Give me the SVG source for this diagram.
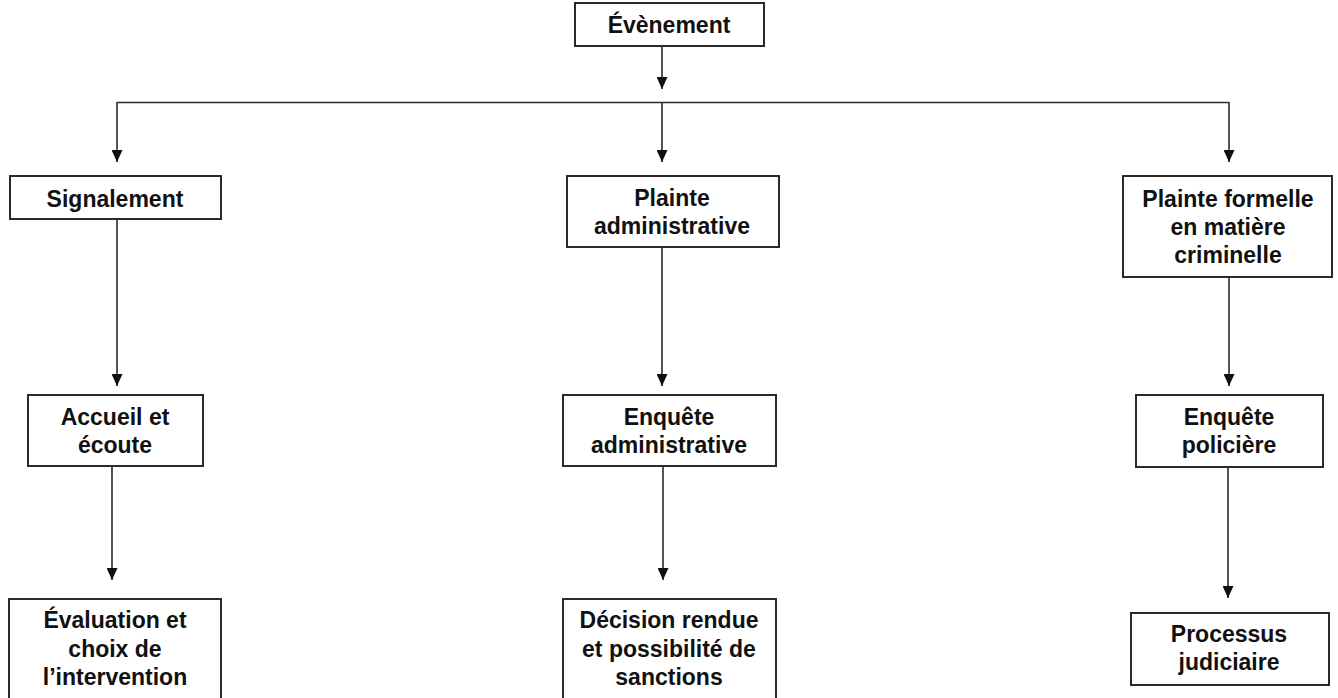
<svg xmlns="http://www.w3.org/2000/svg" width="1338" height="698" viewBox="0 0 1338 698">
<style>
.box{fill:#fff;stroke:#2a2a2a;stroke-width:2}
.t{font-family:"Liberation Sans",Arial,sans-serif;font-weight:bold;font-size:23px;fill:#111;text-anchor:middle}
.c{fill:none;stroke:#2a2a2a;stroke-width:1.6}
</style>
<defs>
<marker id="ah" viewBox="0 0 12 11" refX="12" refY="5.5" markerWidth="12" markerHeight="11" markerUnits="userSpaceOnUse" orient="auto">
<path d="M0,0 L12,5.5 L0,11 Z" fill="#111"/>
</marker>
</defs>
<rect width="1338" height="698" fill="#fff"/>
<g id="connectors">
<path class="c" d="M662,46 V89" marker-end="url(#ah)"/>
<path class="c" d="M117,102.5 H1229"/>
<path class="c" d="M117,102 V162" marker-end="url(#ah)"/>
<path class="c" d="M662,102 V162" marker-end="url(#ah)"/>
<path class="c" d="M1229,102 V162" marker-end="url(#ah)"/>
<path class="c" d="M117,219 V386" marker-end="url(#ah)"/>
<path class="c" d="M662,247 V386" marker-end="url(#ah)"/>
<path class="c" d="M1229,277 V386" marker-end="url(#ah)"/>
<path class="c" d="M112,466 V580" marker-end="url(#ah)"/>
<path class="c" d="M663,466 V580" marker-end="url(#ah)"/>
<path class="c" d="M1228,467 V598" marker-end="url(#ah)"/>
</g>
<g id="n-evenement">
<rect class="box" x="575" y="3" width="189" height="43"/>
<text class="t" x="669" y="33">Évènement</text>
</g>
<g id="n-signalement">
<rect class="box" x="10" y="176" width="211" height="43"/>
<text class="t" x="115" y="207">Signalement</text>
</g>
<g id="n-plainte-admin">
<rect class="box" x="567" y="176" width="212" height="71"/>
<text class="t" x="672" y="206">Plainte</text>
<text class="t" x="672" y="234">administrative</text>
</g>
<g id="n-plainte-formelle">
<rect class="box" x="1123" y="176" width="209" height="101"/>
<text class="t" x="1228" y="207">Plainte formelle</text>
<text class="t" x="1228" y="235">en matière</text>
<text class="t" x="1228" y="263">criminelle</text>
</g>
<g id="n-accueil">
<rect class="box" x="28" y="395" width="175" height="71"/>
<text class="t" x="115" y="425">Accueil et</text>
<text class="t" x="115" y="453">écoute</text>
</g>
<g id="n-enquete-admin">
<rect class="box" x="563" y="395" width="213" height="71"/>
<text class="t" x="669" y="425">Enquête</text>
<text class="t" x="669" y="453">administrative</text>
</g>
<g id="n-enquete-policiere">
<rect class="box" x="1136" y="395" width="187" height="72"/>
<text class="t" x="1229" y="425">Enquête</text>
<text class="t" x="1229" y="453">policière</text>
</g>
<g id="n-evaluation">
<rect class="box" x="9" y="599" width="212" height="104"/>
<text class="t" x="115" y="628">Évaluation et</text>
<text class="t" x="115" y="657">choix de</text>
<text class="t" x="115" y="685">l’intervention</text>
</g>
<g id="n-decision">
<rect class="box" x="563" y="599" width="213" height="104"/>
<text class="t" x="669" y="628">Décision rendue</text>
<text class="t" x="669" y="657">et possibilité de</text>
<text class="t" x="669" y="685">sanctions</text>
</g>
<g id="n-processus">
<rect class="box" x="1131" y="613" width="198" height="72"/>
<text class="t" x="1229" y="642">Processus</text>
<text class="t" x="1229" y="670">judiciaire</text>
</g>
</svg>
